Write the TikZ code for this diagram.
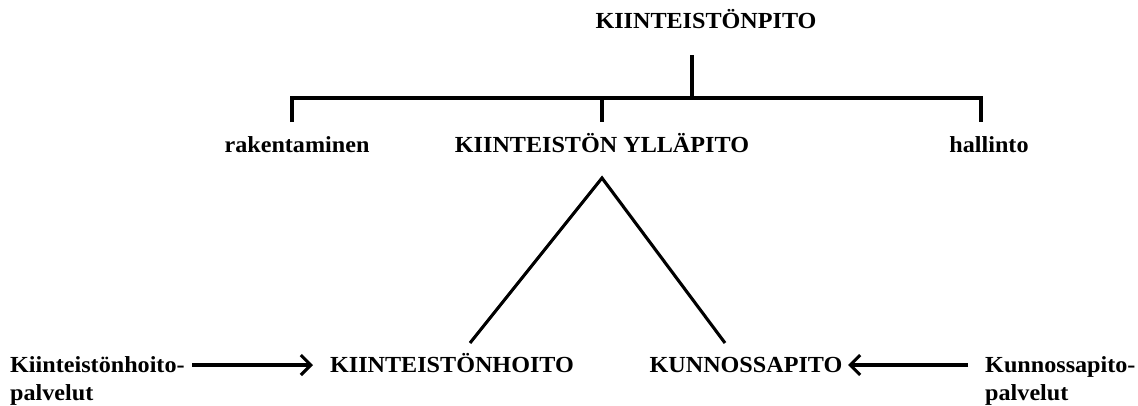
\documentclass[tikz,border=0pt]{standalone}
\usepackage{fontspec}
\setmainfont{Liberation Serif}[FakeStretch=1.05]
\usetikzlibrary{arrows.meta}
\begin{document}
\begin{tikzpicture}[x=1pt,y=-1pt,
  lbl/.style={font=\bfseries\fontsize{23}{28}\selectfont, inner sep=0pt, text height=16pt, text depth=3pt},
  conn/.style={line width=3.1pt, line join=miter},
  arr/.style={conn, -{Straight Barb[length=10pt,width=20pt,line width=3.1pt]}}]
\useasboundingbox (0,0) rectangle (1138,405);
% labels
\node[lbl, anchor=base] (top) at (706,28) {KIINTEISTÖNPITO};
\node[lbl, anchor=base] (rak) at (297,152) {rakentaminen};
\node[lbl, anchor=base] (yll) at (602,152) {KIINTEISTÖN YLLÄPITO};
\node[lbl, anchor=base] (hal) at (989,152) {hallinto};
\node[lbl, anchor=base] (hoito) at (452,372) {KIINTEISTÖNHOITO};
\node[lbl, anchor=base] (kunn) at (746,372) {KUNNOSSAPITO};
\node[lbl, anchor=base west] (khp) at (10,372) {Kiinteistönhoito-};
\node[lbl, anchor=base west] (khp2) at (10,400) {palvelut};
\node[lbl, anchor=base west] (kpp) at (985,372) {Kunnossapito-};
\node[lbl, anchor=base west] (kpp2) at (985,400) {palvelut};
% tree junctions
\coordinate (t0) at (692,55);
\coordinate (tj) at (692,98);
\coordinate (hl) at (292,98);
\coordinate (hm) at (602,98);
\coordinate (hr) at (981,98);
\coordinate (d1) at (292,122);
\coordinate (d2) at (602,122);
\coordinate (d3) at (981,122);
\draw[conn] (t0) -- (tj);
\draw[conn] (d1) -- (hl) -- (hr) -- (d3);
\draw[conn] (hm) -- (d2);
% triangle
\coordinate (apex) at (602,178);
\coordinate (lf) at (470,343);
\coordinate (rf) at (725,343);
\draw[conn] (lf) -- (apex) -- (rf);
% arrows
\coordinate (a1s) at (192,365);
\coordinate (a1e) at (313,365);
\coordinate (a2s) at (968,365);
\coordinate (a2e) at (848,365);
\draw[arr] (a1s) -- (a1e);
\draw[arr] (a2s) -- (a2e);
\end{tikzpicture}
\end{document}
